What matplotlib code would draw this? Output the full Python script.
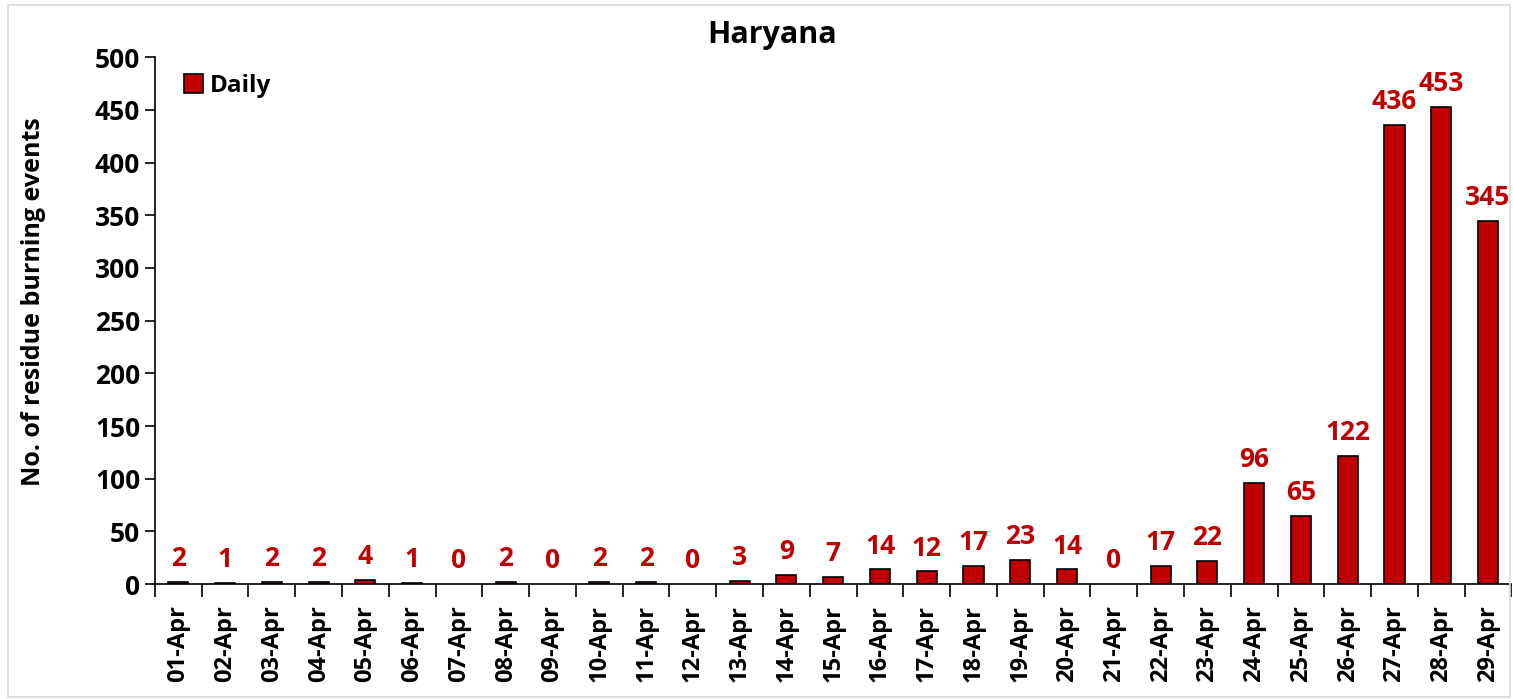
import numpy as np
import matplotlib.pyplot as plt
from matplotlib.patches import Rectangle

days = [f"{d:02d}-Apr" for d in range(1, 30)]
daily = [2, 1, 2, 2, 4, 1, 0, 2, 0, 2, 2, 0, 3, 9, 7, 14, 12, 17, 23, 14,
         0, 17, 22, 96, 65, 122, 436, 453, 345]

plt.rcParams['font.family'] = ['Open Sans', 'DejaVu Sans']
plt.rcParams['font.weight'] = 'bold'

red = '#C00000'

fig = plt.figure(figsize=(15.13, 6.99), dpi=100)
ax = fig.add_axes([0.1024, 0.1645, 0.8966, 0.7535])

x = np.arange(len(days))
bars = ax.bar(x, daily, width=0.43, color=red, edgecolor='black',
              linewidth=1.2, label='Daily')
for b, v in zip(bars, daily):
    if v == 0:
        b.set_linewidth(0)
ax.bar_label(bars, labels=[str(v) for v in daily], padding=7,
             color=red, fontsize=19, fontweight='bold')

ax.set_xlim(-0.5, len(days) - 0.5)
ax.set_ylim(0, 500)
ax.set_yticks(np.arange(0, 501, 50))
ax.tick_params(axis='y', labelsize=19, length=7, width=1.2, direction='out')
ax.set_xticks(x)
ax.set_xticklabels(days, rotation=90, fontsize=17, fontweight='bold')
ax.tick_params(axis='x', which='major', length=0, pad=15)
ax.set_xticks(np.arange(-0.5, len(days)), minor=True)
ax.tick_params(axis='x', which='minor', length=9, width=1.2, direction='out')
for lab in ax.get_yticklabels():
    lab.set_fontweight('bold')

for side in ['top', 'right']:
    ax.spines[side].set_visible(False)
for side in ['left', 'bottom']:
    ax.spines[side].set_linewidth(1.2)

ax.set_ylabel('No. of residue burning events', fontsize=18, fontweight='bold')
ax.yaxis.set_label_coords(-0.08, 0.537)
fig.text(0.51, 0.95, 'Haryana', ha='center', va='center', fontsize=22,
         fontweight='bold')

ax.legend(loc='upper left', bbox_to_anchor=(0.005, 1.01), frameon=False,
          fontsize=17.5, handlelength=0.8, handleheight=0.8, handletextpad=0.3)

fig.patches.append(Rectangle((0.005, 0.003), 0.993, 0.99, transform=fig.transFigure,
                             fill=False, edgecolor='#d9d9d9', linewidth=1.2))

fig.savefig('out.png', dpi=100)
